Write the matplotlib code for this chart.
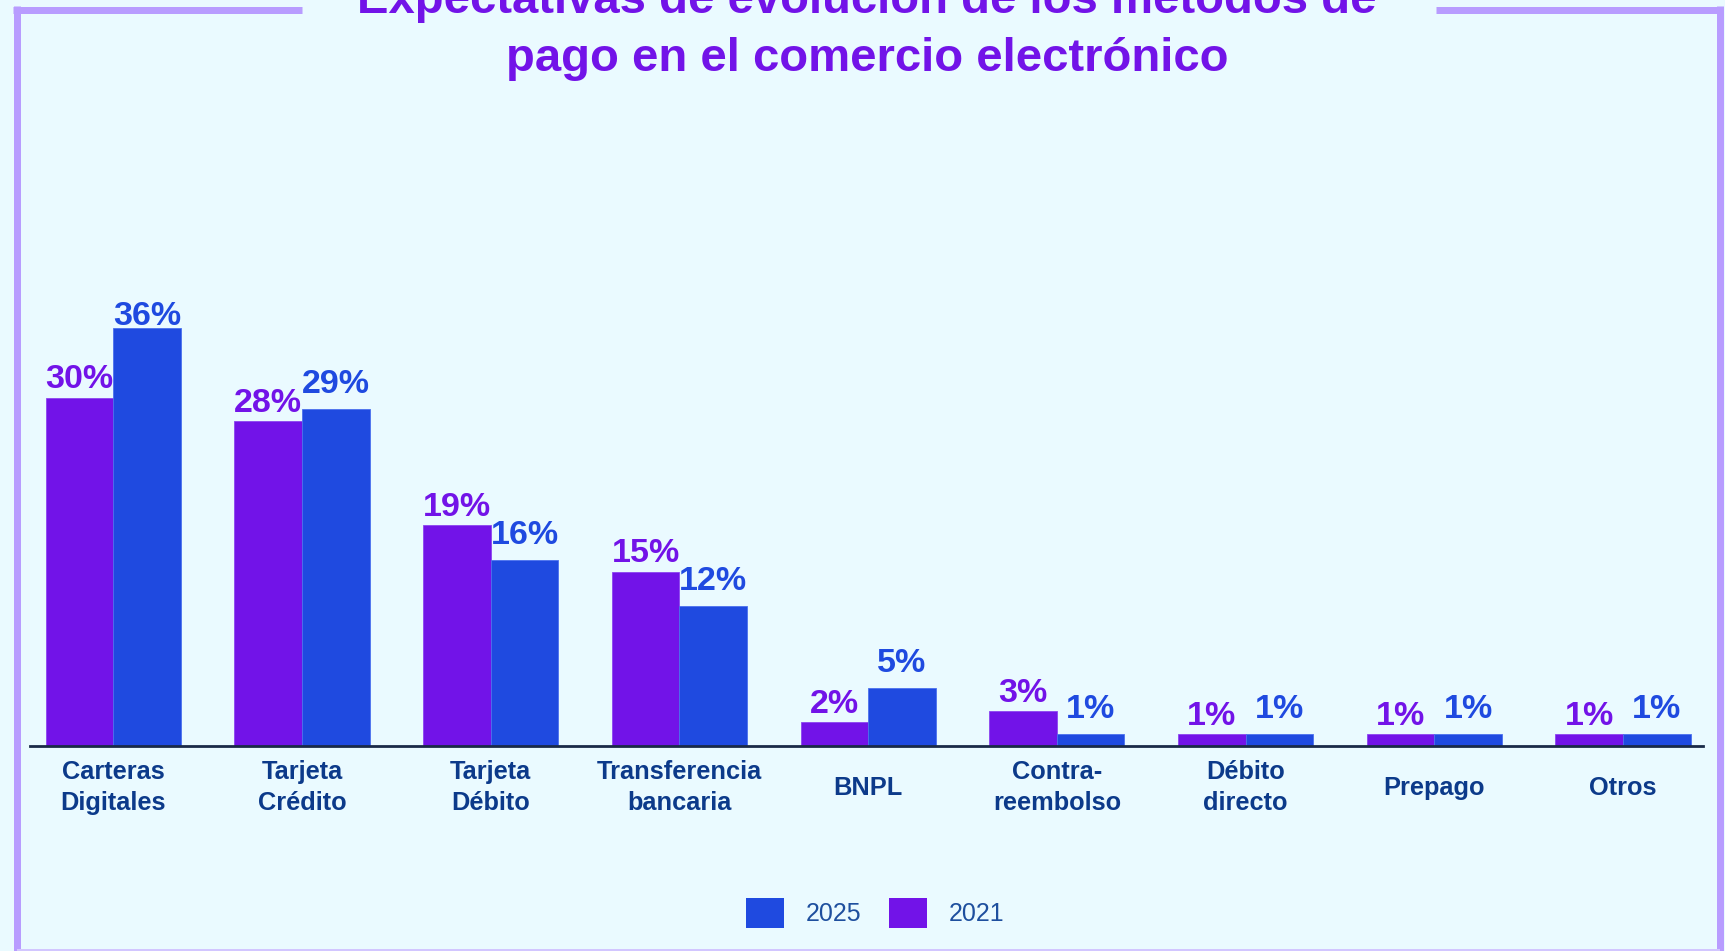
import matplotlib
matplotlib.use("Agg")
import matplotlib.pyplot as plt
from matplotlib.patches import Patch
from matplotlib.lines import Line2D
import numpy as np

# ---------------- data ----------------
categories = ["Carteras\nDigitales", "Tarjeta\nCrédito", "Tarjeta\nDébito",
              "Transferencia\nbancaria", "BNPL", "Contra-\nreembolso",
              "Débito\ndirecto", "Prepago", "Otros"]
values_2021 = [30, 28, 19, 15, 2, 3, 1, 1, 1]
values_2025 = [36, 29, 16, 12, 5, 1, 1, 1, 1]
series_labels = ["2025", "2021"]
title_lines = ["Expectativas de evolución de los métodos de",
               "pago en el comercio electrónico"]

# ---------------- style ----------------
BG = "#eafaff"
PURPLE = "#7213e8"
BLUE = "#1f4ae0"
NAVY = "#0c3a8a"
LEG_TXT = "#1e4f9e"
AXIS = "#1a2a48"
FRAME = "#b89cff"
FONT = "Liberation Sans"

W, H = 1725, 951
fig = plt.figure(figsize=(W / 100, H / 100), dpi=100)
fig.patch.set_facecolor(BG)

base_px = 745.5
top_px = 150
left_px, right_px = 30, 1703
ax = fig.add_axes([left_px / W, 1 - base_px / H, (right_px - left_px) / W, (base_px - top_px) / H])
ax.set_facecolor("none")

px_per_unit = 11.6
ytop = (base_px - top_px) / px_per_unit
ax.set_ylim(0, ytop)
ax.set_xlim(-0.441, 8.424)

x = np.arange(len(categories))
bw = 0.358
ax.bar(x - bw / 2, values_2021, bw, color=PURPLE, edgecolor="#8c45f0", linewidth=0.6)
ax.bar(x + bw / 2, values_2025, bw, color=BLUE, edgecolor="#4b70ee", linewidth=0.6)

for s in ["top", "left", "right"]:
    ax.spines[s].set_visible(False)
ax.spines["bottom"].set_color(AXIS)
ax.spines["bottom"].set_linewidth(2.0)
ax.set_xticks([])
ax.set_yticks([])

# value labels
max_base = (base_px - 325) / px_per_unit
for xi, v in zip(x, values_2021):
    yb = min(v + 9 / px_per_unit, max_base)
    ax.text(xi - bw / 2, yb, f"{v}%", ha="center", va="baseline", color=PURPLE,
            fontsize=24.5, fontweight="bold", family=FONT)
for xi, v in zip(x, values_2025):
    yb = min(v + 16 / px_per_unit, max_base)
    ax.text(xi + bw / 2, yb, f"{v}%", ha="center", va="baseline", color=BLUE,
            fontsize=24.5, fontweight="bold", family=FONT)

# category labels
for xi, lab in zip(x, categories):
    ax.annotate(lab, xy=(xi, 0), xytext=(0, -30.3), textcoords="offset points",
                ha="center", va="center", color=NAVY, fontsize=18.3, fontweight="bold",
                family=FONT, linespacing=1.33, multialignment="center")

# title
cx = 867 / W
fig.text(cx, 1 - 13 / H, title_lines[0], ha="center", va="baseline", color=PURPLE,
         fontsize=34, fontweight="bold", family=FONT)
fig.text(cx, 1 - 71 / H, title_lines[1], ha="center", va="baseline", color=PURPLE,
         fontsize=34, fontweight="bold", family=FONT)

# frame
def fline(x0, y0, x1, y1, lw, color):
    fig.add_artist(Line2D([x0 / W, x1 / W], [1 - y0 / H, 1 - y1 / H], transform=fig.transFigure,
                          color=color, linewidth=lw, solid_capstyle="butt"))

lw = 7 * 72 / 100
fline(13, 10, 302, 10, lw, FRAME)
fline(1436, 10, 1723, 10, lw, FRAME)
fline(16.5, 6, 16.5, 951, lw, FRAME)
fline(1719.5, 6, 1719.5, 951, lw, FRAME)
fline(16.5, 949.5, 1719.5, 949.5, 2 * 72 / 100, "#d2c6ff")

# legend
handles = [Patch(facecolor=BLUE, edgecolor="none"), Patch(facecolor=PURPLE, edgecolor="none")]
leg = fig.legend(handles, series_labels, loc="center", bbox_to_anchor=(875 / W, 1 - 913 / H),
                 ncol=2, frameon=False, prop={"family": FONT, "size": 18},
                 handlelength=1.52, handleheight=1.52, handletextpad=0.85, columnspacing=1.12,
                 borderpad=0, borderaxespad=0)
for t in leg.get_texts():
    t.set_color(LEG_TXT)

fig.savefig("out.png", dpi=100, facecolor=BG)
